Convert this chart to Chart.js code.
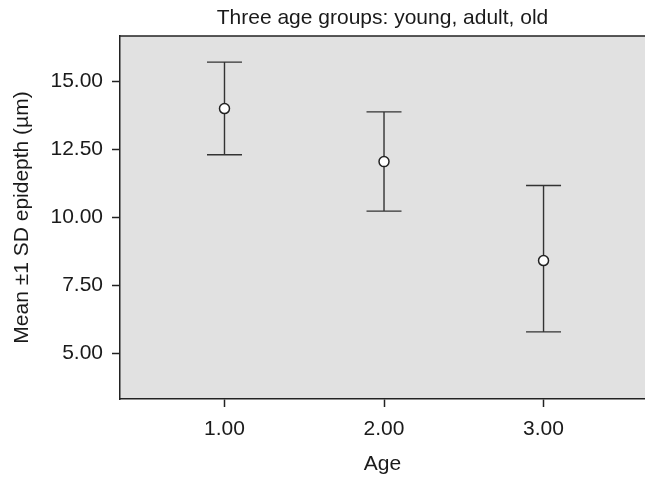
<!DOCTYPE html>
<html><head><meta charset="utf-8">
<script src="https://cdn.jsdelivr.net/npm/chart.js@4/dist/chart.umd.min.js"></script>
<style>html,body{margin:0;padding:0;background:#fff;}canvas{display:block;}</style>
</head><body>
<canvas id="c" width="645" height="479"></canvas>
<script>
// ---- data ----
const ages = [1, 2, 3];
const means = [14.01, 12.06, 8.42];
const upper = [15.72, 13.89, 11.18];
const lower = [12.31, 10.24, 5.80];
const xTicks = [1, 2, 3];
const yTicks = [5, 7.5, 10, 12.5, 15];
const titleText = 'Three age groups: young, adult, old';
const xTitle = 'Age';
const yTitle = 'Mean \u00b11 SD epidepth (\u00b5m)';

const FONT = '"Liberation Sans", Arial, Helvetica, sans-serif';
const TXT = '#1a1a1a';
const AX = '#222222';

const bgPlugin = {
  id: 'bg',
  beforeDraw(chart) {
    const {ctx, chartArea: a} = chart;
    ctx.save();
    ctx.fillStyle = '#ffffff';
    ctx.fillRect(0, 0, chart.width, chart.height);
    ctx.fillStyle = '#e1e1e1';
    ctx.fillRect(a.left, a.top, a.right - a.left, a.bottom - a.top);
    ctx.strokeStyle = AX;
    ctx.lineWidth = 1.5;
    ctx.beginPath();
    ctx.moveTo(a.left, a.top);
    ctx.lineTo(a.right, a.top);
    ctx.stroke();
    ctx.restore();
  }
};

const errPlugin = {
  id: 'errbars',
  beforeDatasetsDraw(chart) {
    const {ctx, scales: {x, y}} = chart;
    const cap = 17.5;
    ctx.save();
    ctx.strokeStyle = '#333333';
    ctx.lineWidth = 1.4;
    ages.forEach((a, i) => {
      const px = x.getPixelForValue(a);
      const pt = y.getPixelForValue(upper[i]);
      const pb = y.getPixelForValue(lower[i]);
      ctx.beginPath();
      ctx.moveTo(px, pt); ctx.lineTo(px, pb);
      ctx.moveTo(px - cap, pt); ctx.lineTo(px + cap, pt);
      ctx.moveTo(px - cap, pb); ctx.lineTo(px + cap, pb);
      ctx.stroke();
    });
    ctx.restore();
  }
};

new Chart(document.getElementById('c'), {
  type: 'scatter',
  data: {
    datasets: [{
      data: ages.map((a, i) => ({x: a, y: means[i]})),
      pointRadius: 5,
      pointHoverRadius: 5,
      pointBackgroundColor: '#ffffff',
      pointBorderColor: '#222222',
      pointBorderWidth: 1.5,
      showLine: false
    }]
  },
  options: {
    responsive: false,
    devicePixelRatio: 1,
    animation: false,
    events: [],
    layout: {padding: 0, autoPadding: false},
    plugins: {
      legend: {display: false},
      tooltip: {enabled: false},
      title: {
        display: true,
        text: titleText,
        fullSize: false,
        color: TXT,
        font: {family: FONT, size: 21, weight: 'normal', lineHeight: 1.2},
        padding: {top: 6, bottom: 4.8}
      }
    },
    scales: {
      x: {
        type: 'linear',
        min: 0.345,
        max: 3.636,
        afterBuildTicks(s) { s.ticks = xTicks.map(v => ({value: v})); },
        afterFit(s) { s.height = 80; s.paddingLeft = 0; s.paddingRight = 0; },
        grid: {drawOnChartArea: false, drawTicks: true, tickLength: 8, tickColor: AX, tickWidth: 1.5},
        border: {display: true, color: AX, width: 1.5},
        ticks: {
          color: TXT, padding: 10,
          font: {family: FONT, size: 21},
          callback: v => Number(v).toFixed(2)
        },
        title: {
          display: true, text: xTitle, color: TXT,
          font: {family: FONT, size: 21, lineHeight: 1.2},
          padding: {top: 0, bottom: 2}
        }
      },
      y: {
        type: 'linear',
        min: 3.33,
        max: 16.68,
        afterBuildTicks(s) { s.ticks = yTicks.map(v => ({value: v})); },
        afterFit(s) { s.width = 120; s.paddingTop = 0; s.paddingBottom = 0; },
        grid: {drawOnChartArea: false, drawTicks: true, tickLength: 8, tickColor: AX, tickWidth: 1.5},
        border: {display: true, color: AX, width: 1.5},
        ticks: {
          color: TXT, padding: 9,
          font: {family: FONT, size: 21},
          callback: v => Number(v).toFixed(2)
        },
        title: {
          display: true, text: yTitle, color: TXT,
          font: {family: FONT, size: 21, lineHeight: 1.2},
          padding: {top: 10, bottom: 0}
        }
      }
    }
  },
  plugins: [bgPlugin, errPlugin]
});
</script>
</body></html>
